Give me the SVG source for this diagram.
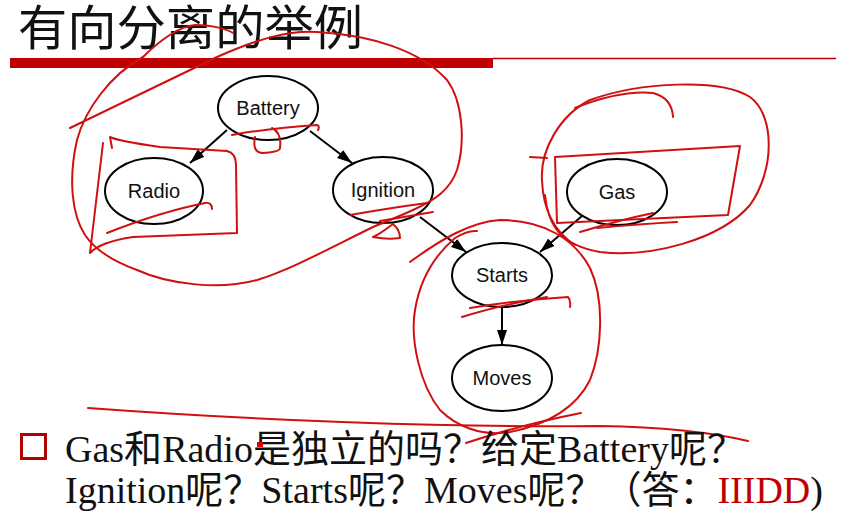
<svg xmlns="http://www.w3.org/2000/svg" width="846" height="530" viewBox="0 0 846 530">
<style>
.node ellipse{fill:#fff;stroke:#000;stroke-width:2}
.node text{font-family:"Liberation Sans",Arial,sans-serif;font-size:20px;fill:#111;text-anchor:middle}
.edge{stroke:#000;stroke-width:2;fill:none;marker-end:url(#arr)}
.ink{fill:none;stroke:#d01010;stroke-width:2;stroke-linecap:round;stroke-linejoin:round}
.body{font-family:"Liberation Serif","Noto Sans CJK SC",serif;font-size:38px;fill:#111}
</style>
<defs>
<marker id="arr" markerUnits="userSpaceOnUse" markerWidth="16" markerHeight="12" refX="15" refY="5" orient="auto">
<path d="M0,0 L15,5 L0,10 Z" fill="#000"/>
</marker>
</defs>
<rect width="846" height="530" fill="#fff"/>
<text x="18" y="45" font-family="'Noto Sans CJK SC',sans-serif" font-size="48" textLength="345" lengthAdjust="spacingAndGlyphs" fill="#111">有向分离的举例</text>
<rect x="10" y="58" width="483" height="10" fill="#c00000"/>
<line x1="493" y1="58.5" x2="836" y2="58.5" stroke="#c00000" stroke-width="1.5"/>
<g id="connectors">
<line class="edge" x1="227" y1="130" x2="190" y2="163"/>
<line class="edge" x1="310" y1="131" x2="352" y2="163"/>
<line class="edge" x1="420" y1="217" x2="466" y2="252"/>
<line class="edge" x1="582" y1="216" x2="540" y2="252"/>
<line class="edge" x1="502" y1="307" x2="502" y2="345"/>
</g>
<g id="battery" class="node"><ellipse cx="268" cy="108" rx="50" ry="32"/><text x="268" y="115">Battery</text></g>
<g id="radio" class="node"><ellipse cx="154" cy="191" rx="49" ry="33"/><text x="154" y="198">Radio</text></g>
<g id="ignition" class="node"><ellipse cx="383" cy="190" rx="50" ry="33"/><text x="383" y="197">Ignition</text></g>
<g id="gas" class="node"><ellipse cx="617" cy="192" rx="50" ry="33"/><text x="617" y="199">Gas</text></g>
<g id="starts" class="node"><ellipse cx="502" cy="275" rx="50" ry="32"/><text x="502" y="282">Starts</text></g>
<g id="moves" class="node"><ellipse cx="502" cy="378" rx="50" ry="33"/><text x="502" y="385">Moves</text></g>
<g id="annotations">
<path class="ink" d="M70,128 L217,57 C260,38 290,30 317,32 C370,35 420,50 447,80 C462,100 466,140 457,170 C450,190 435,200 413,210 C400,216 385,222 373,227 C330,248 290,270 257,280 C220,290 170,285 137,270 C115,262 95,250 85,235 C72,215 68,180 77,140 C85,110 110,75 143,57 C160,40 180,26 195,25 C215,25 228,30 233,33"/>
<path class="ink" d="M112,148 L110,137 Q118,141 160,147 L227,151 Q236,153 236,165 L237,233 L133,237 Q100,242 90,253 L103,143"/>
<path class="ink" d="M107,233 Q160,212 205,203 Q212,202 212,209"/>
<path class="ink" d="M232,135 Q270,128 317,125 Q320,126 318,130"/>
<path class="ink" d="M255,137 Q252,152 262,153 Q280,152 280,148 Q282,133 272,128"/>
<path class="ink" d="M350,215 Q390,208 427,203"/>
<path class="ink" d="M380,221 Q410,216 433,212"/>
<path class="ink" d="M393,224 Q380,234 373,237 Q388,240 400,238 Q400,230 393,224"/>
<path class="ink" d="M545,195 C548,225 560,245 600,252 C650,258 720,240 750,205 C775,170 775,115 750,97 C720,78 640,82 590,100 C560,115 540,150 542,180 C543,210 555,232 575,245"/>
<path class="ink" d="M575,108 Q620,90 653,93 Q672,98 673,117"/>
<path class="ink" d="M530,157 L547,158 M555,157 L740,146 L728,215 L557,223 L555,157"/>
<path class="ink" d="M597,228 Q640,224 677,222"/>
<path class="ink" d="M580,232 Q620,220 653,213"/>
<path class="ink" d="M410,262 C440,240 470,222 500,220 C545,220 575,240 590,268 C605,300 602,350 590,380 C575,410 545,425 510,432 C480,437 455,425 440,410 C420,385 410,340 415,310 C420,280 435,255 455,238 Q468,230 477,231"/>
<path class="ink" d="M466,443 Q520,425 581,413"/>
<path class="ink" d="M462,317 Q500,305 547,297"/>
<path class="ink" d="M470,308 Q520,300 568,297 Q571,300 570,307"/>
<path class="ink" d="M88,408 C250,420 450,428 600,426 C660,427 710,432 748,441"/>
</g>
<rect x="21.5" y="434.5" width="24" height="24" fill="none" stroke="#b00000" stroke-width="3"/>
<text class="body" x="65" y="462" textLength="680" lengthAdjust="spacingAndGlyphs">Gas和Radio是独立的吗？给定Battery呢？</text>
<rect x="257" y="442" width="6" height="5" fill="#e00000"/>
<text class="body" x="65" y="503" textLength="758" lengthAdjust="spacingAndGlyphs">Ignition呢？Starts呢？Moves呢？（答：<tspan fill="#c00000">IIIDD</tspan>)</text>
</svg>
